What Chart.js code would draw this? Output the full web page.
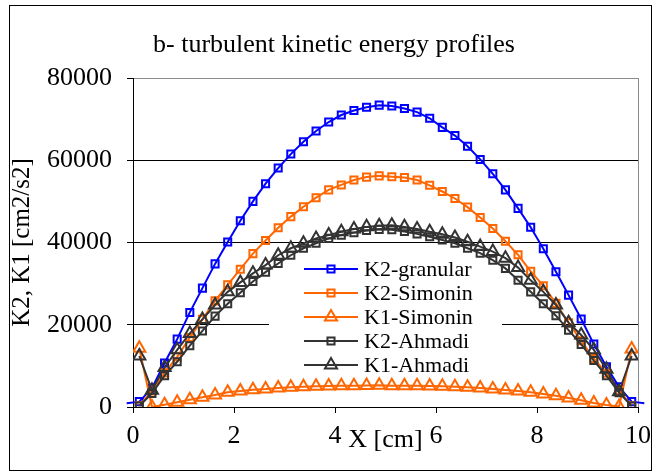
<!DOCTYPE html>
<html>
<head>
<meta charset="utf-8">
<script src="https://cdn.jsdelivr.net/npm/chart.js@4"></script>
<style>
  html, body { margin: 0; padding: 0; background: #fff; }
</style>
</head>
<body>
<canvas id="tkeChart" width="661" height="476"></canvas>
<script>
// x positions of the cell centres [cm]
const xPos = [0.125, 0.375, 0.625, 0.875, 1.125, 1.375, 1.625, 1.875, 2.125, 2.375,
  2.625, 2.875, 3.125, 3.375, 3.625, 3.875, 4.125, 4.375, 4.625, 4.875,
  5.125, 5.375, 5.625, 5.875, 6.125, 6.375, 6.625, 6.875, 7.125, 7.375,
  7.625, 7.875, 8.125, 8.375, 8.625, 8.875, 9.125, 9.375, 9.625, 9.875];

const k2Granular = [1300, 4600, 10700, 16500, 23000, 28900, 34800, 40100, 45300, 50000,
  54300, 58100, 61500, 64500, 67100, 69300, 71000, 72100, 72900, 73400,
  73200, 72600, 71700, 70200, 68000, 66000, 63400, 60200, 56700, 52800,
  48300, 43700, 38500, 32900, 27200, 21400, 15300, 9800, 4900, 1300];
const k2Simonin = [300, 3900, 8300, 12200, 16900, 21300, 25800, 29700, 33500, 37300,
  40500, 43600, 46300, 48700, 50900, 52800, 54000, 55200, 55900, 56200,
  56000, 55800, 55200, 53900, 52400, 50700, 48600, 46100, 43400, 40300,
  37000, 33000, 29500, 25200, 20500, 16100, 11800, 8200, 4000, 300];
const k1Simonin = [14300, 0, 560, 1140, 1780, 2350, 2920, 3570, 3890, 4210,
  4380, 4620, 4780, 4940, 5030, 5100, 5180, 5180, 5200, 5260,
  5180, 5180, 5180, 5100, 5030, 4940, 4780, 4620, 4380, 4130,
  3890, 3570, 3160, 2750, 2190, 1620, 970, 490, 100, 14100];
const k2Ahmadi = [250, 3300, 7600, 11000, 14900, 18500, 22100, 25100, 27800, 30500,
  32800, 34900, 36900, 38600, 39800, 41000, 41800, 42400, 42900, 43200,
  43100, 42700, 42100, 41400, 40600, 39800, 38600, 37400, 35700, 33700,
  30800, 28000, 25100, 22200, 18700, 15200, 11300, 7600, 3500, 250];
const k1Ahmadi = [12400, 4100, 9600, 13900, 17900, 21300, 24800, 28000, 30300, 32500,
  34500, 36900, 38600, 39800, 41000, 41800, 42600, 43300, 43800, 44100,
  44200, 43800, 43300, 42600, 42000, 41200, 40200, 39000, 37800, 36200,
  33900, 30800, 28000, 24800, 20500, 17500, 13900, 9200, 3700, 12400];

// ghost cells just outside the walls (granular line only)
const wallX = [-0.125, 10.125];
const wallGranular = [900, 900];

const xTicks = [0, 2, 4, 6, 8, 10];
const yTicks = [0, 20000, 40000, 60000, 80000];

const serif = "'Liberation Serif', 'Times New Roman', serif";

function pts(vals) {
  return xPos.map((x, i) => ({ x, y: vals[i] }));
}

const granularPts = [{ x: wallX[0], y: wallGranular[0] }]
  .concat(pts(k2Granular), [{ x: wallX[1], y: wallGranular[1] }]);

function series(label, data, color, shape, order) {
  return {
    label, data, order,
    borderColor: color,
    backgroundColor: "rgba(0,0,0,0)",
    borderWidth: 2,
    pointStyle: shape,
    pointRadius: shape === "triangle" ? 7 : 5,
    pointBorderWidth: 2,
    pointBorderColor: color,
    pointBackgroundColor: "rgba(0,0,0,0)",
    tension: 0
  };
}

const datasets = [
  series("K2-granular", granularPts, "#0000ff", "rect", 5),
  series("K2-Simonin", pts(k2Simonin), "#ff6600", "rect", 4),
  series("K1-Simonin", pts(k1Simonin), "#ff6600", "triangle", 3),
  series("K2-Ahmadi", pts(k2Ahmadi), "#333333", "rect", 2),
  series("K1-Ahmadi", pts(k1Ahmadi), "#333333", "triangle", 1)
];
// the wall points carry no marker and may sit outside the axis
datasets[0].pointRadius = c => (c.raw && (c.raw.x < 0 || c.raw.x > 10)) ? 0 : 5;
datasets[0].clip = false;

function marker(ctx, shape, x, y, r) {
  ctx.beginPath();
  if (shape === "triangle") {
    let a = 0;
    ctx.moveTo(x + Math.sin(a) * r, y - Math.cos(a) * r);
    a += 2 * Math.PI / 3;
    ctx.lineTo(x + Math.sin(a) * r, y - Math.cos(a) * r);
    a += 2 * Math.PI / 3;
    ctx.lineTo(x + Math.sin(a) * r, y - Math.cos(a) * r);
    ctx.closePath();
  } else {
    const s = Math.SQRT1_2 * r;
    ctx.rect(x - s, y - s, 2 * s, 2 * s);
  }
  ctx.stroke();
}

const legendBox = {
  id: "legendBox",
  beforeDatasetsDraw(chart) {
    const ctx = chart.ctx;
    ctx.save();
    ctx.fillStyle = "#fff";
    ctx.fillRect(269, 257, 233, 121);
    ctx.restore();
  },
  afterDatasetsDraw(chart) {
    const ctx = chart.ctx;
    ctx.save();
    chart.data.datasets.forEach((ds, i) => {
      const y = 269 + i * 24;
      ctx.strokeStyle = ds.borderColor;
      ctx.lineWidth = 2;
      ctx.beginPath();
      ctx.moveTo(304, y);
      ctx.lineTo(358, y);
      ctx.stroke();
      marker(ctx, ds.pointStyle, 331, y, ds.pointStyle === "triangle" ? 7 : 5);
      ctx.fillStyle = "#000";
      ctx.font = "22px " + serif;
      ctx.textAlign = "left";
      ctx.textBaseline = "middle";
      ctx.fillText(ds.label, 364, y + 1);
    });
    ctx.restore();
  }
};

const frame = {
  id: "frame",
  afterDraw(chart) {
    const ctx = chart.ctx;
    ctx.save();
    ctx.strokeStyle = "#000";
    ctx.lineWidth = 1;
    ctx.strokeRect(9.5, 5.5, 642, 465);
    ctx.restore();
  }
};

new Chart(document.getElementById("tkeChart"), {
  type: "line",
  data: { datasets },
  plugins: [legendBox, frame],
  options: {
    responsive: false,
    animation: false,
    devicePixelRatio: 1,
    layout: { padding: { left: 30, right: 23, top: 0, bottom: 0 } },
    plugins: {
      legend: { display: false },
      tooltip: { enabled: false },
      title: {
        display: true,
        text: "b- turbulent kinetic energy profiles",
        color: "#000",
        font: { family: serif, size: 26, weight: "normal" },
        padding: { top: 30, bottom: 16.8 }
      }
    },
    scales: {
      x: {
        type: "linear",
        min: 0,
        max: 10,
        afterBuildTicks: s => { s.ticks = xTicks.map(v => ({ value: v })); },
        afterFit: s => { s.height = 69; },
        grid: {
          drawOnChartArea: true,
          color: c => c.tick && c.tick.value === 10 ? "#8c8c8c" : "rgba(0,0,0,0)",
          tickColor: "#000",
          tickLength: 6
        },
        border: { color: "#000", width: 1 },
        ticks: {
          color: "#000",
          padding: 8,
          maxRotation: 0,
          font: { family: serif, size: 26 }
        },
        title: {
          display: true,
          text: "X [cm]",
          color: "#000",
          font: { family: serif, size: 26 },
          padding: { top: 0, bottom: 20 }
        }
      },
      y: {
        min: 0,
        max: 80000,
        afterBuildTicks: s => { s.ticks = yTicks.map(v => ({ value: v })); },
        afterFit: s => { s.width = 103; },
        grid: {
          color: c => {
            const v = c.tick && c.tick.value;
            if (v === 80000) return "#8c8c8c";
            if (v === 0) return "rgba(0,0,0,0)";
            return "#000";
          },
          tickColor: "#000",
          tickLength: 6
        },
        border: { color: "#000", width: 1 },
        ticks: {
          color: "#000",
          padding: 15,
          font: { family: serif, size: 26 },
          callback: v => String(v)
        },
        title: {
          display: true,
          text: "K2, K1 [cm2/s2]",
          color: "#000",
          font: { family: serif, size: 25 },
          padding: { top: -23, bottom: 0 }
        }
      }
    }
  }
});
</script>
</body>
</html>
